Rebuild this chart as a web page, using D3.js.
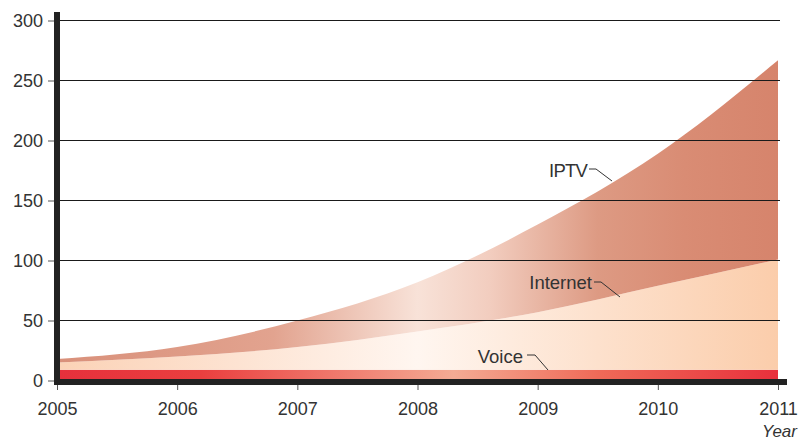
<!DOCTYPE html>
<html>
<head>
<meta charset="utf-8">
<script src="https://cdn.jsdelivr.net/npm/d3@7"></script>
<style>
  body { margin: 0; background: #fff; }
  text { font-family: "Liberation Sans", Arial, sans-serif; fill: #333; }
</style>
</head>
<body>
<script>
// data
var years = [2005, 2006, 2007, 2008, 2009, 2010, 2011];
var voice = [8.5, 8.5, 8.5, 8.5, 8.5, 8.5, 8.5];
var internet = [6, 11, 19, 32, 48, 70, 92];
var iptv = [3, 8, 22, 41, 73, 110, 166];
var yTicks = [0, 50, 100, 150, 200, 250, 300];
var seriesNames = ["Voice", "Internet", "IPTV"];

var width = 802, height = 441;

var svg = d3.select("body").append("svg")
    .attr("width", width)
    .attr("height", height);

var x = d3.scaleLinear().domain([2005, 2011]).range([57, 778]);
var y = d3.scaleLinear().domain([0, 300]).range([380, 20]);

var table = years.map(function(yr, i) {
    return { year: yr, Voice: voice[i], Internet: internet[i], IPTV: iptv[i] };
});
var stacked = d3.stack().keys(seriesNames)(table);

// horizontal gradients for each layer
var defs = svg.append("defs");
var gradients = {
    IPTV: [[0, "#d9907a"], [0.3, "#e2a38f"], [0.5, "#f8e2d8"], [0.6, "#f2cdbf"], [0.75, "#dd9a83"], [0.87, "#d98c74"], [1, "#d6846c"]],
    Internet: [[0, "#fbd2b6"], [0.25, "#fde3d2"], [0.5, "#fff6f0"], [0.75, "#fde1cd"], [1, "#fbcdab"]],
    Voice: [[0, "#e6303c"], [0.2, "#ea3f3f"], [0.55, "#f4ab94"], [0.75, "#ef6a58"], [1, "#e8303c"]]
};
seriesNames.forEach(function(k) {
    var g = defs.append("linearGradient")
        .attr("id", "grad" + k)
        .attr("gradientUnits", "userSpaceOnUse")
        .attr("x1", x(2005)).attr("x2", x(2011))
        .attr("y1", 0).attr("y2", 0);
    gradients[k].forEach(function(s) {
        g.append("stop").attr("offset", s[0]).attr("stop-color", s[1]);
    });
});

var area = d3.area()
    .curve(d3.curveMonotoneX)
    .x(function(d) { return x(d.data.year); })
    .y0(function(d) { return y(d[0]); })
    .y1(function(d) { return y(d[1]); });

svg.append("g").selectAll("path")
    .data(stacked)
    .enter()
    .append("path")
    .attr("d", area)
    .attr("fill", function(d) { return "url(#grad" + d.key + ")"; });

// gridlines on top of the areas
svg.append("g").selectAll("line")
    .data(yTicks.filter(function(t) { return t > 0; }))
    .enter()
    .append("line")
    .attr("x1", x(2005)).attr("x2", 780)
    .attr("y1", function(d) { return Math.round(y(d)) + 0.5; })
    .attr("y2", function(d) { return Math.round(y(d)) + 0.5; })
    .attr("stroke", "#1a1a1a")
    .attr("stroke-width", 1)
    .attr("shape-rendering", "crispEdges");

// y axis
var yAxis = d3.axisLeft(y).tickValues(yTicks).tickSize(6).tickPadding(5);
var gy = svg.append("g").attr("transform", "translate(54,0.5)").call(yAxis);
gy.select(".domain").remove();
gy.selectAll(".tick line").attr("stroke", "#555");
gy.selectAll(".tick text").style("font-size", "18px").attr("fill", "#333");

// x axis
var xAxis = d3.axisBottom(x).tickValues(years).tickFormat(d3.format("d")).tickSize(6).tickPadding(12);
var gx = svg.append("g").attr("transform", "translate(0,384)").call(xAxis);
gx.select(".domain").remove();
gx.selectAll(".tick line").attr("stroke", "#555");
gx.selectAll(".tick text").style("font-size", "18px").attr("fill", "#333");

// thick axis bars
svg.append("rect").attr("x", 54).attr("y", 12).attr("width", 6).attr("height", 373).attr("fill", "#222");
svg.append("rect").attr("x", 54).attr("y", 379).attr("width", 733).attr("height", 6).attr("fill", "#222");

svg.append("text")
    .attr("x", 797).attr("y", 437)
    .attr("text-anchor", "end")
    .style("font-size", "17px")
    .style("font-style", "italic")
    .text("Year");

// series labels with leader lines
var labels = [
    { name: "IPTV", tx: 587, ty: 177, pts: [[589, 169], [596, 169], [612, 181]] },
    { name: "Internet", tx: 592, ty: 289, pts: [[594, 282], [601, 282], [620, 297]] },
    { name: "Voice", tx: 523, ty: 363, pts: [[527, 355], [535, 355], [548, 370]] }
];
labels.forEach(function(l) {
    svg.append("text")
        .attr("x", l.tx).attr("y", l.ty)
        .attr("text-anchor", "end")
        .style("font-size", "18.5px")
        .style("letter-spacing", l.name == "IPTV" ? "-0.8px" : "0px")
        .text(l.name);
    svg.append("path")
        .attr("d", d3.line()(l.pts))
        .attr("fill", "none")
        .attr("stroke", "#333")
        .attr("stroke-width", 1);
});
</script>
</body>
</html>
